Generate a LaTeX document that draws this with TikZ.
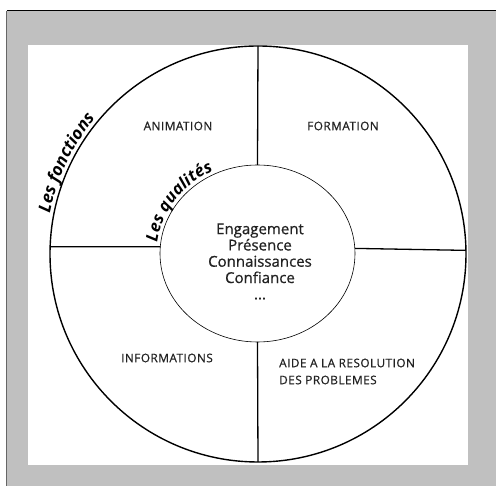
\documentclass[tikz,border=0pt]{standalone}
\usepackage{fontspec}
\setmainfont{Open Sans}
\newfontfamily\labfont{Open Sans}[FakeBold=0.7, LetterSpace=4]
\newfontfamily\midfont{Open Sans}[FakeBold=0.7]
\usetikzlibrary{decorations.text,shapes.geometric,calc}
\definecolor{framegray}{HTML}{C0C0C0}
\definecolor{inkgray}{HTML}{222222}
\begin{document}
\begin{tikzpicture}[x=1pt,y=1pt,
  lab/.style={font=\labfont\fontsize{11.8}{17}\selectfont, text=inkgray, inner sep=0pt},
  sepline/.style={line width=1.3pt},
  curvedlabel/.style 2 args={decorate, decoration={text effects along path, text={#1}, raise=2pt,
    text effects/.cd, text along path,
    characters={inner sep=0pt, anchor=base, text=black, font=\fontsize{#2}{#2}\selectfont\bfseries\itshape}}}
]
\useasboundingbox (-258,-232) rectangle (238,254);
% frame
\fill[framegray] (-251,-232) rectangle (238,243);
\draw[line width=1pt] (-251,243) -- (238,243);
\draw[line width=1pt, black!60] (-251,243) -- (-251,-232);
\fill[white] (-230,-211) rectangle (210,209);
% circles
\node[circle, draw, line width=1.4pt, minimum size=416pt, inner sep=0pt, outer sep=0pt] (outer) at (0,0) {};
\node[ellipse, draw, line width=0.6pt, minimum width=195pt, minimum height=177pt, inner sep=0pt, outer sep=0pt] (inner) at (-0.5,0.5) {};
% separators
\draw[sepline] (inner.176.5) -- (outer.178.3);
\draw[sepline] (inner.3.5) -- (outer.1.7);
\draw[sepline] (inner.90) -- (outer.90);
\draw[sepline] (inner.270) -- (outer.270);
% labels
\node[lab] (anim) at (-80,128) {ANIMATION};
\node[lab] (form) at (85,128) {FORMATION};
\node[lab] (info) at (-91,-104) {INFORMATIONS};
\node[lab, anchor=west, align=left] (aide) at (21,-117.5) {AIDE A LA RESOLUTION\\DES PROBLEMES};
\node[font=\midfont\fontsize{15}{16.3}\selectfont, align=center, inner sep=0pt, text=inkgray] (qual) at (2,-7.5)
  {Engagement\\Présence\\Connaissances\\Confiance\\...};
% curved titles
\path[curvedlabel={Les fonctions}{17}]
  (169:210) arc[start angle=169, end angle=100, radius=210];
\path[curvedlabel={Les qualités}{16.5}]
  ($(inner.center)+(173:99 and 90)$) arc[start angle=173, end angle=60, x radius=99, y radius=90];
\end{tikzpicture}
\end{document}
